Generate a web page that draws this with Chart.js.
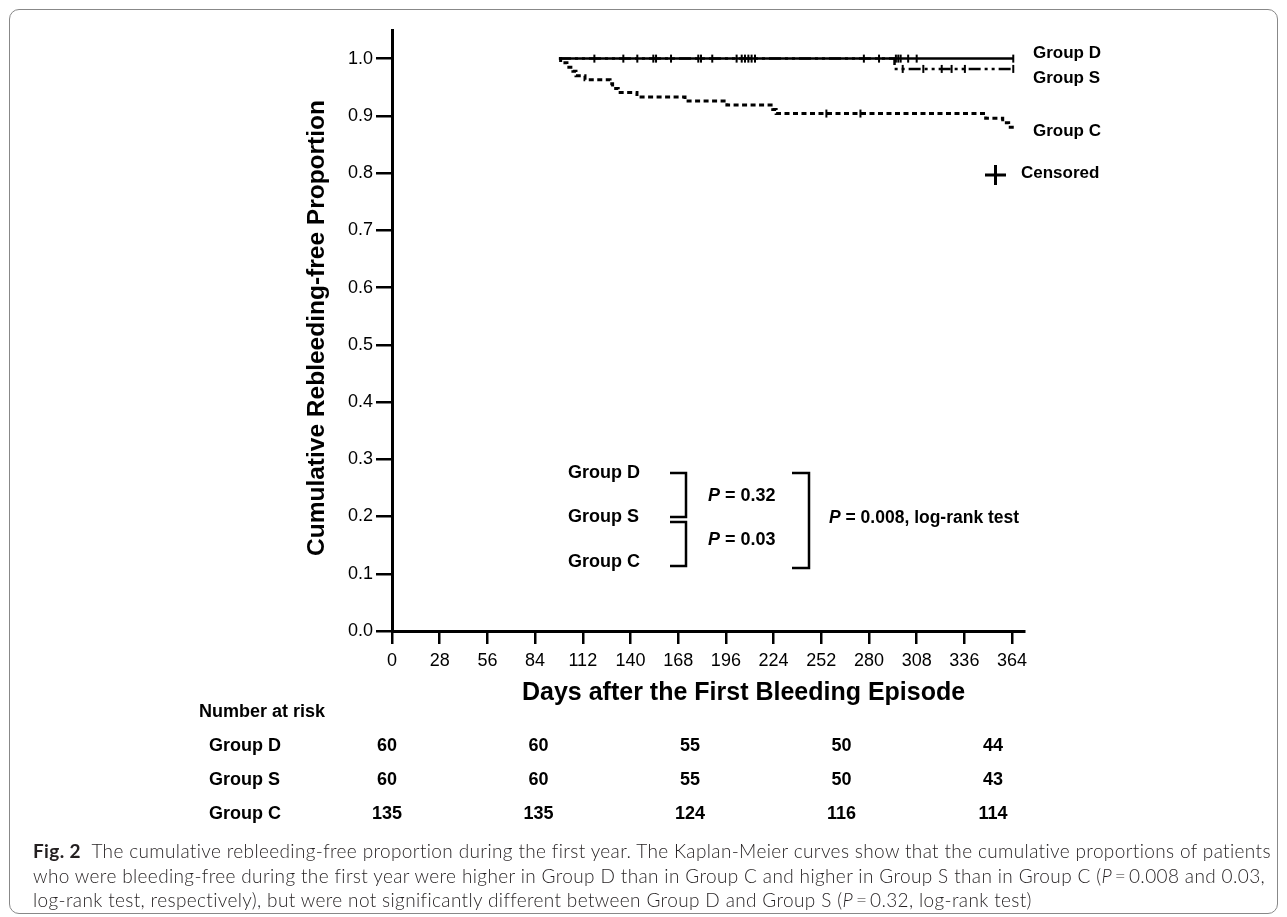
<!DOCTYPE html>
<html>
<head>
<meta charset="utf-8">
<title>Cumulative rebleeding-free proportion</title>
<script src="https://cdn.jsdelivr.net/npm/chart.js@4.4.1/dist/chart.umd.min.js"></script>
<style>
  html, body { margin: 0; padding: 0; background: #fff; }
  #page { position: relative; width: 1287px; height: 917px; overflow: hidden; }
  #frame { position: absolute; left: 9px; top: 9px; width: 1269px; height: 905px; border: 1.2px solid #888; border-radius: 10px; box-sizing: border-box; }
  #chart { position: absolute; left: 0; top: 0; }
  #caption { position: absolute; left: 33px; top: 839px; font-family: Lato, "Open Sans", sans-serif; font-weight: 300; font-size: 19px; line-height: 24.5px; color: #231f20; white-space: nowrap; }
  #caption b { font-weight: 700; }
  #caption .ln { display: inline-block; }
</style>
</head>
<body>
<div id="page">
  <div id="frame"></div>
  <canvas id="chart" width="1287" height="917"></canvas>
  <div id="caption">
    <div><span class="ln"><b>Fig. 2</b>&nbsp; The cumulative rebleeding-free proportion during the first year. The Kaplan-Meier curves show that the cumulative proportions of patients</span></div>
    <div><span class="ln">who were bleeding-free during the first year were higher in Group D than in Group C and higher in Group S than in Group C (<i>P</i>&#8201;=&#8201;0.008 and 0.03,</span></div>
    <div><span class="ln">log-rank test, respectively), but were not significantly different between Group D and Group S (<i>P</i>&#8201;=&#8201;0.32, log-rank test)</span></div>
  </div>
</div>
<script>
// Axis ticks
const xTicks = [0, 28, 56, 84, 112, 140, 168, 196, 224, 252, 280, 308, 336, 364];
const yTicks = [0, 0.1, 0.2, 0.3, 0.4, 0.5, 0.6, 0.7, 0.8, 0.9, 1.0];

// Kaplan-Meier steps (day, proportion after the step)
const dDays = [98, 365];
const dSurv = [1.0, 1.0];
const dCensor = [118.8, 135.8, 144, 153.4, 155, 163.8, 179.8, 181.4, 188, 202.3, 205.3, 207.2, 209.2, 211.1, 213.1,
                 277, 285.9, 295.8, 297.2, 298.6, 303, 308, 364.7];

const sDays = [98, 295, 365];
const sSurv = [1.0, 0.982, 0.982];
const sCensor = [299.8, 311.9, 322.7, 328.5, 336.3, 364.7];

const cDays = [98, 99, 102.7, 106.2, 108, 113.3, 128, 129.5, 132.8, 143.8, 172, 196.6, 223.5, 225.5, 348.5, 358.5, 362, 365];
const cSurv = [1.0, 0.993, 0.985, 0.978, 0.970, 0.963, 0.956, 0.948, 0.941, 0.933, 0.926, 0.919, 0.911, 0.904, 0.896, 0.888, 0.880, 0.880];
const cCensor = [255, 275];

// Number at risk table
const riskDays = [0, 90, 180, 270, 360];
const riskGroups = ['Group D', 'Group S', 'Group C'];
const riskD = [60, 60, 55, 50, 44];
const riskS = [60, 60, 55, 50, 43];
const riskC = [135, 135, 124, 116, 114];

const FONT = '"Liberation Sans", Arial, Helvetica, sans-serif';

function toPoints(days, surv) {
    return days.map((d, i) => ({ x: d, y: surv[i] }));
}

function survAt(days, surv, t) {
    let v = surv[0];
    for (let i = 0; i < days.length; i++) {
        if (days[i] <= t) v = surv[i];
    }
    return v;
}

function censorPoints(marks, days, surv) {
    return marks.map(t => ({ x: t, y: survAt(days, surv, t) }));
}

function censorSet(data) {
    return {
        data: data,
        showLine: false,
        pointStyle: 'line',
        rotation: 90,
        pointRadius: 4,
        pointBorderWidth: 2,
        pointBorderColor: '#000',
        pointBackgroundColor: '#000',
        order: -1
    };
}

function boldText(ctx, str, x, y, size, align) {
    ctx.font = 'bold ' + size + 'px ' + FONT;
    ctx.textAlign = align || 'left';
    ctx.textBaseline = 'middle';
    ctx.fillText(str, x, y);
}

function pText(ctx, rest, x, y, size) {
    ctx.textAlign = 'left';
    ctx.textBaseline = 'middle';
    ctx.font = 'italic bold ' + size + 'px ' + FONT;
    ctx.fillText('P', x, y);
    const w = ctx.measureText('P').width;
    ctx.font = 'bold ' + size + 'px ' + FONT;
    ctx.fillText(rest, x + w, y);
}

function bracket(ctx, x0, x1, yTop, yBottom) {
    ctx.beginPath();
    ctx.moveTo(x0, yTop);
    ctx.lineTo(x1, yTop);
    ctx.lineTo(x1, yBottom);
    ctx.lineTo(x0, yBottom);
    ctx.stroke();
}

const extras = {
    id: 'extras',
    afterDraw(chart) {
        const ctx = chart.ctx;
        const xs = chart.scales.x;
        const area = chart.chartArea;
        ctx.save();
        ctx.fillStyle = '#000';
        ctx.strokeStyle = '#000';

        // axis titles
        boldText(ctx, 'Days after the First Bleeding Episode', 522, 693, 25);
        ctx.save();
        ctx.translate(317, 328);
        ctx.rotate(-Math.PI / 2);
        boldText(ctx, 'Cumulative Rebleeding-free Proportion', 0, 0, 24.5, 'center');
        ctx.restore();

        // curve labels
        boldText(ctx, 'Group D', 1033, 53, 17);
        boldText(ctx, 'Group S', 1033, 78, 17);
        boldText(ctx, 'Group C', 1033, 131, 17);
        boldText(ctx, 'Censored', 1021, 173, 17);
        ctx.lineWidth = 3;
        ctx.beginPath();
        ctx.moveTo(985, 175); ctx.lineTo(1006, 175);
        ctx.moveTo(995.5, 165); ctx.lineTo(995.5, 185);
        ctx.stroke();

        // comparison brackets
        boldText(ctx, 'Group D', 568, 473, 18);
        boldText(ctx, 'Group S', 568, 517, 18);
        boldText(ctx, 'Group C', 568, 562, 18);
        ctx.lineWidth = 2.5;
        bracket(ctx, 670, 686, 473, 517);
        bracket(ctx, 670, 686, 522, 566);
        bracket(ctx, 792, 809, 473, 568);
        pText(ctx, ' = 0.32', 708, 496, 18);
        pText(ctx, ' = 0.03', 708, 540, 18);
        pText(ctx, ' = 0.008, log-rank test', 829, 518, 17.5);

        // number at risk
        boldText(ctx, 'Number at risk', 199, 712, 18);
        const rows = [riskD, riskS, riskC];
        const rowY = [746, 780, 814];
        rows.forEach((vals, r) => {
            boldText(ctx, riskGroups[r], 209, rowY[r], 18);
            vals.forEach((v, i) => {
                const px = area.left - 5 + (xs.getPixelForValue(riskDays[i]) - area.left) * 0.988;
                boldText(ctx, String(v), px, rowY[r], 18, 'center');
            });
        });
        ctx.restore();
    }
};

const axisCommon = {
    border: { display: true, color: '#000', width: 3 },
    grid: { display: true, drawOnChartArea: false, drawTicks: true, color: '#000', lineWidth: 2.5 },
    ticks: { color: '#000', font: { family: FONT, size: 18 } }
};

new Chart(document.getElementById('chart'), {
    type: 'scatter',
    data: {
        datasets: [
            {
                data: toPoints(dDays, dSurv), showLine: true, stepped: 'before',
                borderColor: '#000', borderWidth: 2.5, pointRadius: 0, order: 0
            },
            {
                data: toPoints(sDays, sSurv), showLine: true, stepped: 'before',
                borderColor: '#000', borderWidth: 2.5, borderDash: [12, 4, 3, 4, 3, 4], pointRadius: 0, order: 1
            },
            {
                data: toPoints(cDays, cSurv), showLine: true, stepped: 'before',
                borderColor: '#000', borderWidth: 3, borderDash: [5, 3.5], pointRadius: 0, order: 2
            },
            censorSet(censorPoints(dCensor, dDays, dSurv)),
            censorSet(censorPoints(sCensor, sDays, sSurv)),
            censorSet(censorPoints(cCensor, cDays, cSurv))
        ]
    },
    options: {
        responsive: false,
        animation: false,
        events: [],
        layout: { padding: { left: 332, top: 30, right: 263, bottom: 246 } },
        plugins: { legend: { display: false }, tooltip: { enabled: false } },
        scales: {
            x: {
                type: 'linear', min: 0, max: 371,
                border: axisCommon.border,
                grid: Object.assign({}, axisCommon.grid, { tickLength: 13 }),
                ticks: Object.assign({}, axisCommon.ticks, { padding: 6, maxRotation: 0 }),
                afterBuildTicks: s => { s.ticks = xTicks.map(v => ({ value: v })); },
                afterFit: s => { s.height = 40; }
            },
            y: {
                type: 'linear', min: 0, max: 1.05,
                border: axisCommon.border,
                grid: Object.assign({}, axisCommon.grid, { tickLength: 16 }),
                ticks: Object.assign({}, axisCommon.ticks, { padding: 3, callback: v => v.toFixed(1) }),
                afterBuildTicks: s => { s.ticks = yTicks.map(v => ({ value: v })); },
                afterFit: s => { s.width = 60; }
            }
        }
    },
    plugins: [extras]
});

// stretch caption lines to the column width of the figure
function fitCaption() {
    const first = document.querySelector('#caption .ln');
    const w = first.getBoundingClientRect().width;
    const ls = (1239 - w) / first.textContent.length;
    document.getElementById('caption').style.letterSpacing = ls.toFixed(3) + 'px';
}
fitCaption();
</script>
</body>
</html>
